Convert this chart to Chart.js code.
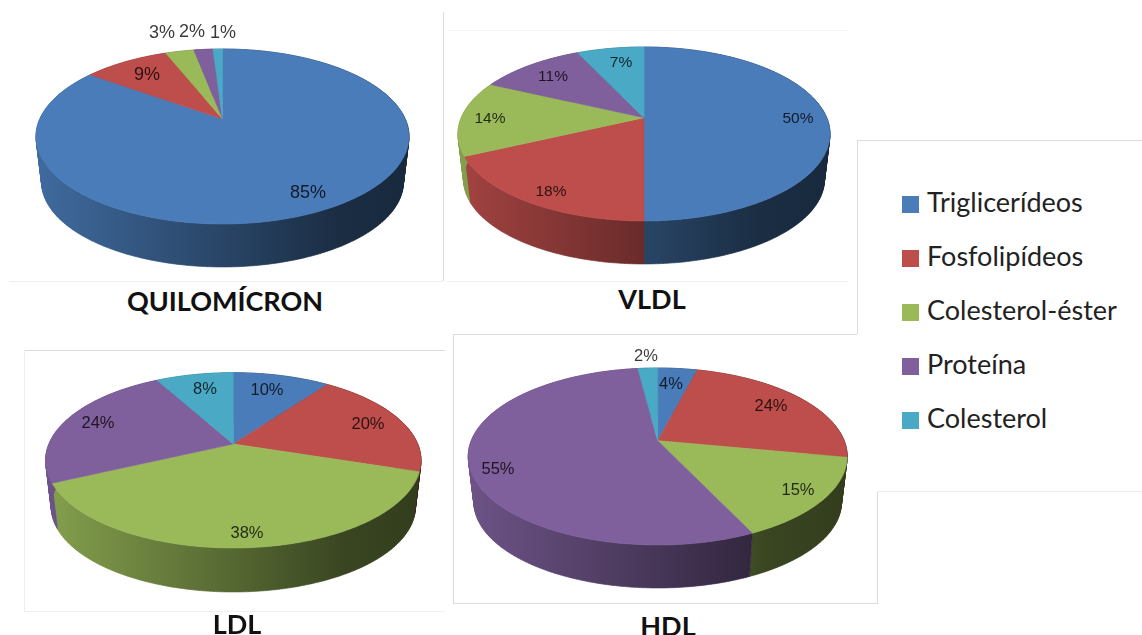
<!DOCTYPE html>
<html lang="pt">
<head>
<meta charset="utf-8">
<title>Composição das lipoproteínas</title>
<script src="https://cdn.jsdelivr.net/npm/chart.js@4"></script>
<style>
    html, body { margin: 0; padding: 0; background: #fff; overflow: hidden; }
    #page { position: relative; width: 1142px; height: 635px; overflow: hidden; font-family: Lato, sans-serif; color: #111; }
    canvas { position: absolute; display: block; }
    .hline, .vline { position: absolute; background: #dcdcdc; }
    .hline { height: 1px; }
    .vline { width: 1px; }
    .pie-title { position: absolute; transform: translate(-50%, -50%); font-weight: 700; font-size: 27px; white-space: nowrap; }
    .legend-row { position: absolute; left: 902px; height: 17px; display: flex; align-items: center; font-size: 27px; white-space: nowrap; color: #222; }
    .legend-row i { display: block; width: 17px; height: 17px; margin-right: 8px; }
    .legend-row span { position: relative; top: -3px; }
</style>
</head>
<body>
<div id="page">
    <!-- panel edges left over from the pasted charts -->
    <div class="vline" style="left:443px;top:12px;height:269px"></div>
    <div class="hline" style="left:9px;top:281px;width:434px;background:#efefef"></div>
    <div class="hline" style="left:447px;top:281px;width:401px;background:#f2f2f2"></div>
    <div class="hline" style="left:447px;top:30px;width:401px;background:#f4f4f4"></div>
    <div class="vline" style="left:857px;top:140px;height:194px"></div>
    <div class="hline" style="left:453px;top:334px;width:404px"></div>
    <div class="hline" style="left:857px;top:140px;width:285px"></div>
    <div class="vline" style="left:453px;top:334px;height:269px"></div>
    <div class="hline" style="left:453px;top:603px;width:425px"></div>
    <div class="vline" style="left:877px;top:491px;height:112px"></div>
    <div class="hline" style="left:877px;top:491px;width:265px;background:#ececec"></div>
    <div class="hline" style="left:24px;top:350px;width:421px"></div>
    <div class="vline" style="left:24px;top:350px;height:261px;background:#eeeeee"></div>
    <div class="hline" style="left:24px;top:611px;width:421px;background:#efefef"></div>
</div>
<script>
// Data (percent of each lipoprotein)
const categories = ['Triglicerídeos', 'Fosfolipídeos', 'Colesterol-éster', 'Proteína', 'Colesterol'];
const quilomicronValues = [85, 9, 3, 2, 1];
const vldlValues = [50, 18, 14, 11, 7];
const ldlValues = [10, 20, 38, 24, 8];
const hdlValues = [4, 24, 15, 55, 2];
const sliceColors = ['#4a7cb9', '#be4e4b', '#9aba59', '#7f609d', '#4aa9c4'];

// Where each pie sits on the page; top/bottom differ around the tip because of the perspective
const pies = [
    {
        title: 'QUILOMÍCRON', titleX: 225, titleY: 300, values: quilomicronValues, fontSize: 18,
        box: [9, 12, 434, 269], cx: 222.5, tipY: 119, topY: 49, botY: 224, halfW: 186.5, depth: 43,
        labels: [[308, 193], [147, 75], [162, 33], [192, 32], [223, 33]],
    },
    {
        title: 'VLDL', titleX: 652, titleY: 298, values: vldlValues, fontSize: 15.5,
        box: [447, 31, 401, 250], cx: 644, tipY: 117.7, topY: 47, botY: 221, halfW: 186, depth: 43,
        labels: [[798, 119], [551, 192], [490, 119], [553, 77], [621, 63]],
    },
    {
        title: 'LDL', titleX: 237, titleY: 623, values: ldlValues, fontSize: 16.5,
        box: [25, 351, 420, 260], cx: 233.3, tipY: 444, topY: 372.7, botY: 548, halfW: 187.7, depth: 44,
        labels: [[267, 390], [368, 424], [247, 533], [98, 423], [205, 389]],
    },
    {
        title: 'HDL', titleX: 668, titleY: 625, values: hdlValues, fontSize: 16.5,
        box: [454, 335, 423, 268], cx: 657.7, tipY: 440.7, topY: 368, botY: 545, halfW: 189.5, depth: 43,
        labels: [[671, 384], [771, 406], [798, 490], [498, 469], [646, 356]],
    },
];

const BOTTOM_SCALE = 0.97;  // base disc is a bit smaller than the top one
const ANGLE_STEP = Math.PI / 180;

function shade(hex, factor) {
    const n = parseInt(hex.slice(1), 16);
    const r = Math.round((n >> 16) * factor);
    const g = Math.round(((n >> 8) & 255) * factor);
    const b = Math.round((n & 255) * factor);
    return `rgb(${r}, ${g}, ${b})`;
}

// Perspective projection of the unit disc onto the page
function makeProjection(pie) {
    const up = pie.tipY - pie.topY;
    const down = pie.botY - pie.tipY;
    const p = (down - up) / (down + up);
    const radius = pie.halfW * Math.sqrt(1 - p * p);
    const radiusY = up * (1 + p);
    return function (angle) {
        const u = Math.cos(angle);
        const v = Math.sin(angle);
        const w = 1 - p * v;
        return { x: radius * u / w, y: radiusY * v / w };
    };
}

function arcAngles(start, end) {
    const angles = [];
    for (let a = start; a < end; a += ANGLE_STEP) {
        angles.push(a);
    }
    angles.push(end);
    return angles;
}

function quadArea(q) {
    let sum = 0;
    q.forEach((pt, i) => {
        const next = q[(i + 1) % q.length];
        sum += pt[0] * next[1] - next[0] * pt[1];
    });
    return sum;
}

// Draws the arcs Chart.js laid out as a tilted disc with a wall underneath
const tiltedPie = {
    id: 'tiltedPie',
    beforeDatasetDraw(chart) {
        const pie = chart.options.plugins.tiltedPie.pie;
        const project = makeProjection(pie);
        const arcs = chart.getDatasetMeta(0).data;
        const ctx = chart.ctx;
        const ox = pie.cx - pie.box[0];
        const oy = pie.tipY - pie.box[1];
        const lift = pie.depth + (pie.botY - pie.tipY) * (1 - BOTTOM_SCALE);

        ctx.save();
        ctx.lineWidth = 0.6;
        ctx.lineJoin = 'round';

        // Side wall first, one quad per degree so the edges at far left/right get swept too.
        // All quads go in one path with the same winding, otherwise the seams show as stripes.
        // The top face paints over whatever is hidden
        arcs.forEach((arc, i) => {
            const grad = ctx.createLinearGradient(ox - pie.halfW, 0, ox + pie.halfW, 0);
            grad.addColorStop(0, shade(sliceColors[i], 0.86));
            grad.addColorStop(0.8, shade(sliceColors[i], 0.37));
            grad.addColorStop(1, shade(sliceColors[i], 0.33));
            const angles = arcAngles(arc.startAngle, arc.endAngle);
            ctx.beginPath();
            for (let k = 1; k < angles.length; k++) {
                const a = project(angles[k - 1]);
                const b = project(angles[k]);
                const quad = [
                    [ox + a.x, oy + a.y],
                    [ox + b.x, oy + b.y],
                    [ox + b.x * BOTTOM_SCALE, oy + b.y * BOTTOM_SCALE + lift],
                    [ox + a.x * BOTTOM_SCALE, oy + a.y * BOTTOM_SCALE + lift],
                ];
                if (quadArea(quad) < 0) {
                    quad.reverse();
                }
                ctx.moveTo(quad[0][0], quad[0][1]);
                quad.slice(1).forEach(pt => ctx.lineTo(pt[0], pt[1]));
                ctx.closePath();
            }
            ctx.fillStyle = grad;
            ctx.strokeStyle = grad;
            ctx.fill();
            ctx.stroke();
        });

        // Top face
        arcs.forEach((arc, i) => {
            ctx.beginPath();
            ctx.moveTo(ox, oy);
            arcAngles(arc.startAngle, arc.endAngle).forEach(a => {
                const pt = project(a);
                ctx.lineTo(ox + pt.x, oy + pt.y);
            });
            ctx.closePath();
            ctx.fillStyle = sliceColors[i];
            ctx.strokeStyle = sliceColors[i];
            ctx.fill();
            ctx.stroke();
        });
        ctx.restore();
        return false;  // skip the flat default drawing
    },
    afterDatasetsDraw(chart) {
        const pie = chart.options.plugins.tiltedPie.pie;
        const ctx = chart.ctx;
        ctx.save();
        ctx.font = `${pie.fontSize}px "Liberation Sans", Arial, sans-serif`;
        ctx.fillStyle = 'rgba(0, 0, 0, 0.78)';
        ctx.textAlign = 'center';
        ctx.textBaseline = 'middle';
        pie.values.forEach((value, i) => {
            const [x, y] = pie.labels[i];
            ctx.fillText(value + '%', x - pie.box[0], y - pie.box[1]);
        });
        ctx.restore();
    },
};

const page = document.getElementById('page');

pies.forEach(pie => {
    const canvas = document.createElement('canvas');
    canvas.width = pie.box[2];
    canvas.height = pie.box[3];
    canvas.style.left = pie.box[0] + 'px';
    canvas.style.top = pie.box[1] + 'px';
    page.appendChild(canvas);

    new Chart(canvas, {
        type: 'pie',
        data: {
            labels: categories,
            datasets: [{ data: pie.values, backgroundColor: sliceColors, borderWidth: 0 }],
        },
        options: {
            responsive: false,
            animation: false,
            plugins: {
                legend: { display: false },
                tooltip: { enabled: false },
                tiltedPie: { pie },
            },
        },
        plugins: [tiltedPie],
    });

    const title = document.createElement('div');
    title.className = 'pie-title';
    title.textContent = pie.title;
    title.style.left = pie.titleX + 'px';
    title.style.top = pie.titleY + 'px';
    page.appendChild(title);
});

// Shared legend on the right
categories.forEach((name, i) => {
    const row = document.createElement('div');
    row.className = 'legend-row';
    row.style.top = (196 + i * 54) + 'px';
    row.innerHTML = `<i style="background:${sliceColors[i]}"></i><span>${name}</span>`;
    page.appendChild(row);
});
</script>
</body>
</html>
